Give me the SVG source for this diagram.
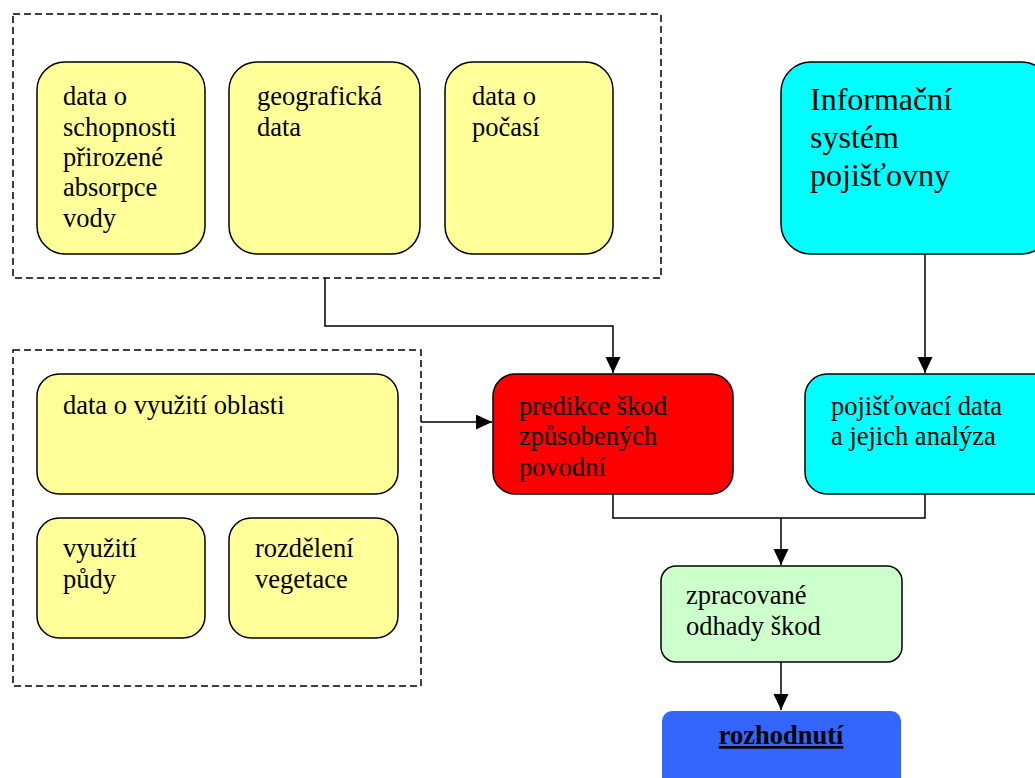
<svg xmlns="http://www.w3.org/2000/svg" width="1035" height="778" viewBox="0 0 1035 778">
<style>
.box{stroke:#000;stroke-width:1.5}
.y{fill:#FFFF99}
.t{font-family:'Liberation Serif','Times New Roman','DejaVu Serif',serif;font-size:26.5px;fill:#000}
.dash{fill:none;stroke:#000;stroke-width:1.5;stroke-dasharray:7 4}
.c{fill:none;stroke:#000;stroke-width:1.5}
</style>
<defs>
<marker id="ah" markerUnits="userSpaceOnUse" markerWidth="17" markerHeight="16" refX="16" refY="7.5" orient="auto">
<path d="M0,0 L16,7.5 L0,15 Z" fill="#000"/>
</marker>
</defs>
<rect width="1035" height="778" fill="#fff"/>
<g id="group-top"><rect class="dash" x="13" y="14" width="648" height="264"/></g>
<g id="group-bottom"><rect class="dash" x="13" y="350" width="408" height="336"/></g>
<g id="connectors">
<polyline class="c" points="325,278 325,326 613,326 613,373" marker-end="url(#ah)"/>
<polyline class="c" points="925,254 925,373" marker-end="url(#ah)"/>
<polyline class="c" points="421,422 492,422" marker-end="url(#ah)"/>
<polyline class="c" points="613,494 613,518 925,518 925,494"/>
<polyline class="c" points="781,518 781,565" marker-end="url(#ah)"/>
<polyline class="c" points="781,662 781,710" marker-end="url(#ah)"/>
</g>
<g font-family="'Liberation Serif','Times New Roman','DejaVu Serif',serif">
<g id="n-absorpce"><rect class="box y" x="37" y="62" width="168" height="192" rx="28"/>
<text class="t" x="63" y="105">data o</text><text class="t" x="63" y="136">schopnosti</text><text class="t" x="63" y="166">přirozené</text><text class="t" x="63" y="196">absorpce</text><text class="t" x="63" y="227">vody</text></g>
<g id="n-geo"><rect class="box y" x="229" y="62" width="191" height="192" rx="28"/>
<text class="t" x="257" y="105">geografická</text><text class="t" x="257" y="136">data</text></g>
<g id="n-pocasi"><rect class="box y" x="445" y="62" width="168" height="192" rx="28"/>
<text class="t" x="472" y="105">data o</text><text class="t" x="472" y="136">počasí</text></g>
<g id="n-info"><rect class="box" fill="#00FFFF" x="781" y="62" width="270" height="192" rx="30"/>
<text class="t" style="font-size:32px" x="810" y="110">Informační</text><text class="t" style="font-size:32px" x="810" y="148">systém</text><text class="t" style="font-size:32px" x="810" y="186">pojišťovny</text></g>
<g id="n-oblast"><rect class="box y" x="37" y="374" width="361" height="120" rx="22"/>
<text class="t" x="63" y="414">data o využití oblasti</text></g>
<g id="n-puda"><rect class="box y" x="37" y="518" width="168" height="120" rx="22"/>
<text class="t" x="63" y="557">využití</text><text class="t" x="63" y="588">půdy</text></g>
<g id="n-vegetace"><rect class="box y" x="229" y="518" width="169" height="120" rx="22"/>
<text class="t" x="255" y="557">rozdělení</text><text class="t" x="255" y="588">vegetace</text></g>
<g id="n-predikce"><rect class="box" fill="#FF0000" x="493" y="374" width="240" height="120" rx="22"/>
<text class="t" x="519" y="415">predikce škod</text><text class="t" x="519" y="445">způsobených</text><text class="t" x="519" y="476">povodní</text></g>
<g id="n-pojist"><rect class="box" fill="#00FFFF" x="805" y="374" width="250" height="120" rx="22"/>
<text class="t" x="831" y="415">pojišťovací data</text><text class="t" x="831" y="445">a jejich analýza</text></g>
<g id="n-odhady"><rect class="box" fill="#CCFFCC" x="661" y="566" width="241" height="96" rx="15"/>
<text class="t" x="686" y="604">zpracované</text><text class="t" x="686" y="635">odhady škod</text></g>
<g id="n-rozhodnuti"><rect fill="#3366FF" x="662" y="711" width="239" height="80" rx="10"/>
<text class="t" x="781" y="744" text-anchor="middle" font-weight="bold" text-decoration="underline">rozhodnutí</text></g>
</g>
</svg>
